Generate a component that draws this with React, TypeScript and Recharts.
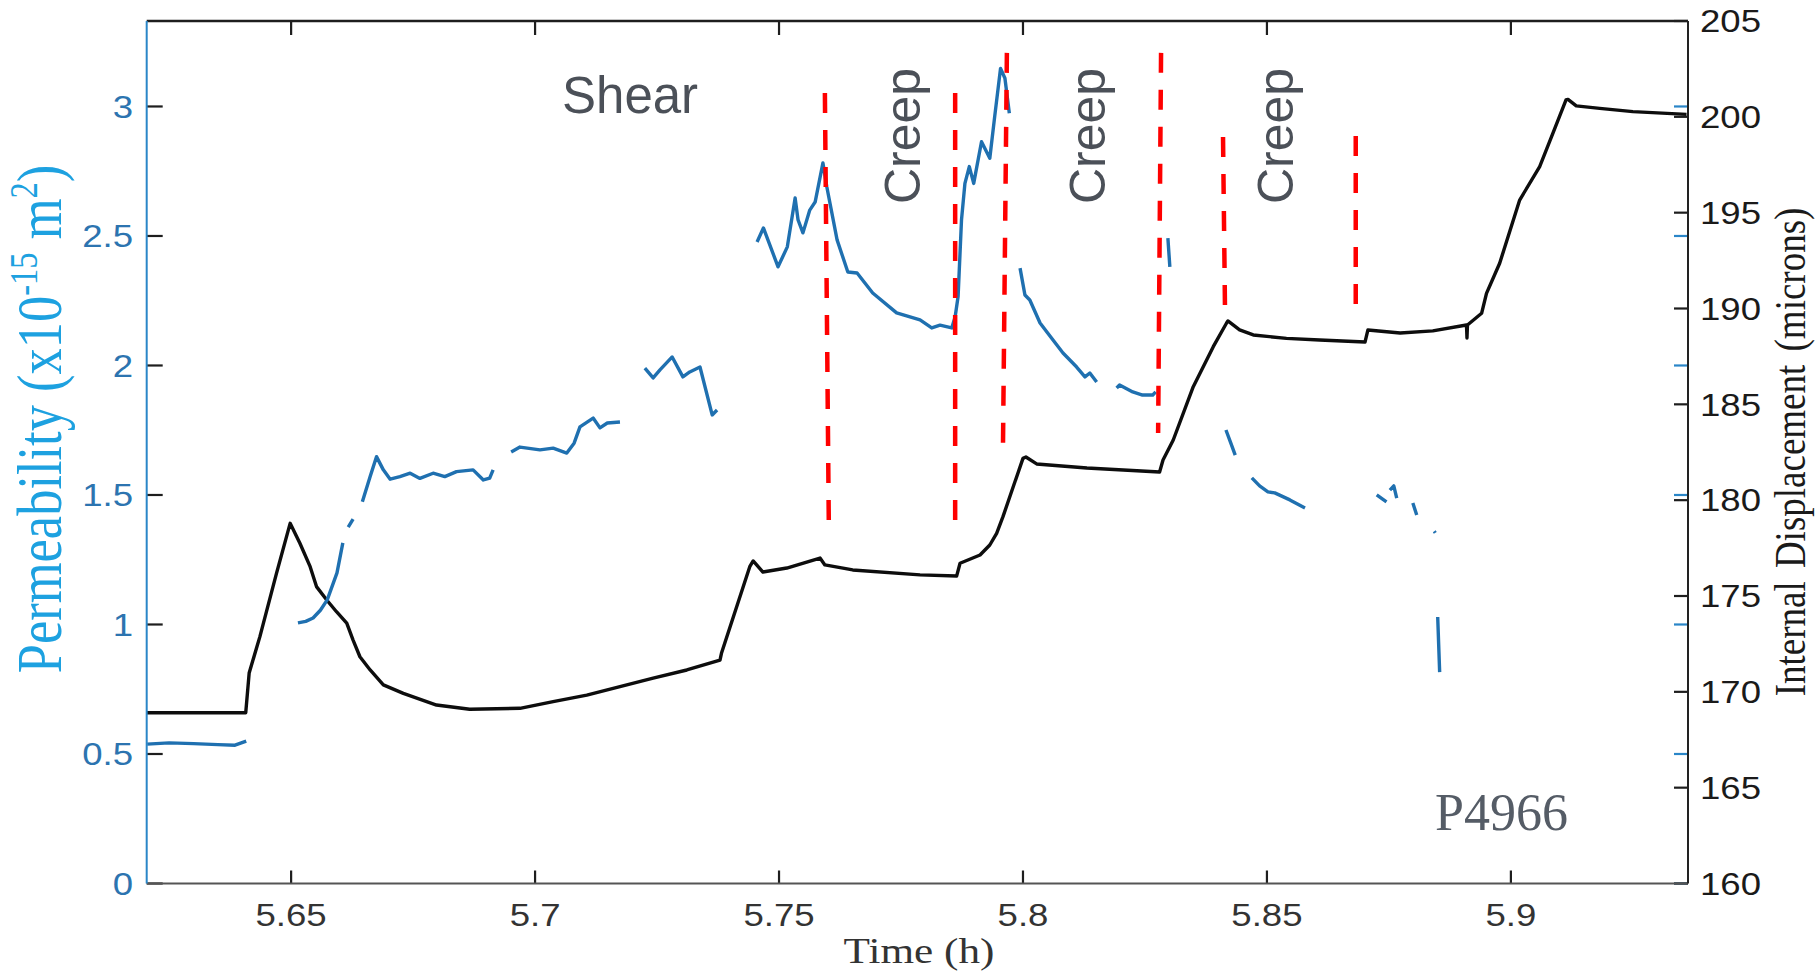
import { LineChart, Line, XAxis, YAxis, ReferenceLine } from 'recharts'

const W = 1820
const H = 972

const timeTicks = [5.65, 5.7, 5.75, 5.8, 5.85, 5.9]
const permTicks = [0, 0.5, 1, 1.5, 2, 2.5, 3]
const dispTicks = [160, 165, 170, 175, 180, 185, 190, 195, 200, 205]

const T_MIN = 5.6204
const T_MAX = 5.9363
const P_MAX = 3.33
const D_MIN = 160
const D_MAX = 205

// internal displacement (microns), right axis
const dispTime = [
  5.6204, 5.6407, 5.6414, 5.6436, 5.647, 5.6498, 5.6518, 5.6539, 5.6552, 5.6573,
  5.6593, 5.6614, 5.6627, 5.6641, 5.6662, 5.6689, 5.673, 5.6798, 5.6866, 5.6969,
  5.7037, 5.7106, 5.7174, 5.7242, 5.7311, 5.7379, 5.7382, 5.744, 5.7447, 5.7467,
  5.7516, 5.7584, 5.7594, 5.7651, 5.7789, 5.7864, 5.7871, 5.7912, 5.7932, 5.7946,
  5.7959, 5.798, 5.8, 5.8006, 5.8028, 5.8131, 5.828, 5.8287, 5.8308, 5.8349,
  5.839, 5.8417, 5.842, 5.8444, 5.8472, 5.854, 5.8608, 5.8701, 5.8707, 5.8773,
  5.884, 5.8909, 5.891, 5.8911, 5.894, 5.895, 5.8977, 5.9018, 5.9059, 5.9086,
  5.9113, 5.9117, 5.9134, 5.9182, 5.925, 5.936,
]
const dispValue = [
  168.91, 168.91, 170.98, 172.88, 176.18, 178.79, 177.75, 176.53, 175.49, 174.79,
  174.18, 173.58, 172.7, 171.83, 171.14, 170.36, 169.92, 169.31, 169.09, 169.14,
  169.49, 169.83, 170.27, 170.71, 171.14, 171.66, 172.01, 176.53, 176.83, 176.25,
  176.46, 176.98, 176.62, 176.36, 176.1, 176.04, 176.71, 177.14, 177.66, 178.27,
  179.14, 180.7, 182.18, 182.25, 181.89, 181.68, 181.47, 182.1, 183.14, 185.92,
  188.01, 189.23, 189.35, 188.88, 188.62, 188.44, 188.36, 188.25, 188.88, 188.72,
  188.83, 189.14, 188.46, 189.14, 189.75, 190.79, 192.36, 195.66, 197.4, 199.14,
  200.88, 200.91, 200.57, 200.44, 200.27, 200.13,
]

// permeability (x10^-15 m2), left axis; null marks a gap in the record
const permTime = [
  5.6205, 5.625, 5.63, 5.635, 5.6385, 5.6408, 5.645,
  5.6514, 5.653, 5.6545, 5.656, 5.6574, 5.6594, 5.6606, 5.6612,
  5.6617, 5.6627, 5.6638,
  5.6646, 5.6662, 5.6675, 5.6689, 5.6703, 5.6723, 5.6744, 5.6764, 5.6791, 5.6815,
  5.6839, 5.6873, 5.6894, 5.6907, 5.6914, 5.693,
  5.6951, 5.6969, 5.701, 5.7037, 5.7065, 5.708, 5.7092, 5.7119, 5.7133, 5.7148, 5.7174, 5.72,
  5.7225, 5.7242, 5.7256, 5.7281, 5.7303, 5.7317, 5.7338, 5.7363, 5.7373, 5.741,
  5.7455, 5.7468, 5.7498, 5.7517, 5.7533, 5.7539, 5.7549, 5.7563, 5.7574, 5.759,
  5.7598, 5.7619, 5.7641, 5.766, 5.7692, 5.7741, 5.7789, 5.7813, 5.783, 5.7854,
  5.7861, 5.7867, 5.7874, 5.7881, 5.789, 5.7899, 5.7915, 5.7932, 5.7942, 5.7954,
  5.7963, 5.7972, 5.7985,
  5.7994, 5.8004, 5.8014, 5.8035, 5.8049, 5.8082, 5.811, 5.8127, 5.8137, 5.8151, 5.8165,
  5.8192, 5.8198, 5.8225, 5.8245, 5.8266, 5.8272, 5.828,
  5.8297, 5.8301, 5.835,
  5.8416, 5.8426, 5.8435, 5.845,
  5.8469, 5.8485, 5.8502, 5.8516, 5.8547, 5.8578, 5.865,
  5.8725, 5.8745, 5.8748,
  5.8752, 5.876, 5.8766, 5.878,
  5.8799, 5.8807, 5.882,
  5.8843, 5.8845, 5.8847,
  5.885, 5.8854,
]
const permValue = [
  0.538, 0.543, 0.54, 0.536, 0.534, 0.55, null,
  1.006, 1.012, 1.025, 1.055, 1.095, 1.199, 1.315, null,
  1.376, 1.407, null,
  1.474, 1.571, 1.648, 1.597, 1.561, 1.571, 1.584, 1.564, 1.584, 1.571,
  1.59, 1.597, 1.558, 1.565, 1.597, null,
  1.666, 1.685, 1.674, 1.681, 1.662, 1.7, 1.763, 1.797, 1.759, 1.778, 1.782, null,
  1.99, 1.952, 1.983, 2.033, 1.956, 1.975, 1.994, 1.809, 1.828, null,
  2.477, 2.531, 2.381, 2.458, 2.647, 2.562, 2.512, 2.6, 2.631, 2.782,
  2.689, 2.485, 2.361, 2.357, 2.28, 2.203, 2.176, 2.145, 2.156, 2.145,
  2.188, 2.266, 2.562, 2.703, 2.768, 2.703, 2.864, 2.8, 2.961, 3.147,
  3.109, 2.974, null,
  2.376, 2.272, 2.253, 2.164, 2.129, 2.048, 1.994, 1.956, 1.971, 1.936, null,
  1.913, 1.925, 1.898, 1.886, 1.886, 1.898, null,
  2.492, 2.381, null,
  1.751, 1.7, 1.654, null,
  1.566, 1.535, 1.512, 1.508, 1.481, 1.45, null,
  1.5, 1.473, null,
  1.519, 1.535, 1.488, null,
  1.469, 1.423, null,
  1.36, 1.354, null,
  1.029, 0.816,
]

// red dashed markers (time and permeability of both ends)
const markTimeTop = [5.7594, 5.7861, 5.7967, 5.8283, 5.841, 5.8682]
const markTimeBottom = [5.7602, 5.7861, 5.7959, 5.8277, 5.8414, 5.8682]
const markTop = [3.052, 3.052, 3.207, 3.207, 2.882, 2.886]
const markBottom = [1.392, 1.392, 1.685, 1.739, 2.226, 2.233]

const dispData = dispTime.map((t, i) => ({ t, v: dispValue[i] }))
const permData = permTime.map((t, i) => ({ t, v: permValue[i] }))

// plot box, set by the margins and axis sizes below
const LEFT_W = 146.7
const RIGHT_W = 132
const TOP_M = 21
const BOTTOM_H = 88.5
const PL = LEFT_W
const PR = W - RIGHT_W
const PT = TOP_M
const PB = H - BOTTOM_H

// same linear maps as the axes, only for the MATLAB-style box ticks
const bx = (t: number) => PL + ((t - T_MIN) / (T_MAX - T_MIN)) * (PR - PL)
const byL = (v: number) => PB - (v / P_MAX) * (PB - PT)
const byR = (v: number) => PB - ((v - D_MIN) / (D_MAX - D_MIN)) * (PB - PT)

const FRAME = '#1e1e1e'
const BLUE_AXIS = '#2a86c8'

const SANS = "'Liberation Sans', Arial, Helvetica, sans-serif"
const SERIF = "'Liberation Serif', 'Times New Roman', serif"
const SX = 1.18

const tickText = (anchor: 'start' | 'middle' | 'end', fill: string, dy: string) =>
  (p: any) => (
    <text
      transform={`translate(${p.x},${p.y}) scale(${SX},1)`}
      textAnchor={anchor}
      dy={dy}
      fontFamily={SANS}
      fontSize={31}
      fill={fill}
    >
      {String(p.payload.value)}
    </text>
  )

function Frame() {
  return (
    <g className="box-frame">
      <rect x={PL} y={PT - 1.25} width={PR - PL} height={2.5} fill={FRAME} />
      {timeTicks.map((t) => (
        <g key={`x${t}`}>
          <rect x={bx(t) - 1.1} y={PB - 13} width={2.2} height={13} fill={FRAME} />
          <rect x={bx(t) - 1.1} y={PT} width={2.2} height={14} fill={FRAME} />
        </g>
      ))}
      {permTicks.map((v) => (
        <g key={`p${v}`}>
          <rect x={PL} y={byL(v) - 1.1} width={16} height={2.2} fill={FRAME} />
          <rect x={PR - 14} y={byL(v) - 1.1} width={14} height={2.2} fill={BLUE_AXIS} />
        </g>
      ))}
      {dispTicks.map((v) => (
        <rect key={`d${v}`} x={PR - 14} y={byR(v) - 1.1} width={14} height={2.2} fill={FRAME} />
      ))}
    </g>
  )
}

export default function App() {
  return (
    <div style={{ position: 'absolute', left: 0, top: 0, width: W, height: H, background: '#fff' }}>
      <LineChart width={W} height={H} margin={{ top: TOP_M, right: 0, bottom: 0, left: 0 }}>
        <XAxis
          dataKey="t"
          type="number"
          domain={[T_MIN, T_MAX]}
          allowDataOverflow
          ticks={timeTicks}
          interval={0}
          height={BOTTOM_H}
          axisLine={{ stroke: '#555555', strokeWidth: 2 }}
          tickLine={false}
          tickSize={0}
          tickMargin={20.5}
          tick={tickText('middle', '#333333', '0.72em')}
        />
        <YAxis
          yAxisId="left"
          type="number"
          domain={[0, P_MAX]}
          allowDataOverflow
          ticks={permTicks}
          interval={0}
          width={LEFT_W}
          axisLine={{ stroke: BLUE_AXIS, strokeWidth: 2 }}
          tickLine={false}
          tickSize={0}
          tickMargin={13.7}
          tick={tickText('end', '#2c74b0', '0.36em')}
        />
        <YAxis
          yAxisId="right"
          orientation="right"
          type="number"
          domain={[D_MIN, D_MAX]}
          allowDataOverflow
          ticks={dispTicks}
          interval={0}
          width={RIGHT_W}
          axisLine={{ stroke: '#222222', strokeWidth: 2 }}
          tickLine={false}
          tickSize={0}
          tickMargin={12}
          tick={tickText('start', '#1a1a1a', '0.36em')}
        />

        <Line
          yAxisId="right"
          data={dispData}
          dataKey="v"
          type="linear"
          stroke="#0d0d0d"
          strokeWidth={3.4}
          strokeLinejoin="round"
          dot={false}
          isAnimationActive={false}
        />
        <Line
          yAxisId="left"
          data={permData}
          dataKey="v"
          type="linear"
          stroke="#1f70b0"
          strokeWidth={3.4}
          strokeLinejoin="round"
          dot={false}
          connectNulls={false}
          isAnimationActive={false}
        />

        {markTimeTop.map((t, i) => (
          <ReferenceLine
            key={`red${i}`}
            yAxisId="left"
            segment={[{ x: t, y: markTop[i] }, { x: markTimeBottom[i], y: markBottom[i] }]}
            stroke="#ff0000"
            strokeWidth={4.5}
            strokeDasharray="20 17"
            ifOverflow="visible"
          />
        ))}

        <Frame />

        <text x={562} y={113} fontFamily={SANS} fontSize={51} fill="#4b5058">Shear</text>
        {[920, 1105, 1293].map((x) => (
          <text
            key={x}
            transform={`translate(${x},136) rotate(-90)`}
            textAnchor="middle"
            fontFamily={SANS}
            fontSize={50}
            fill="#4b5058"
          >
            Creep
          </text>
        ))}
        <text x={1435} y={830} fontFamily={SERIF} fontSize={52} fill="#555c66">P4966</text>

        <text
          transform={`translate(61,419) scale(1.2,1) rotate(-90)`}
          textAnchor="middle"
          fontFamily={SERIF}
          fontSize={52.5}
          fill="#1da1e0"
        >
          Permeability (x10<tspan dy={-20} fontSize={32.5}>-15</tspan>
          <tspan dy={20}> m</tspan>
          <tspan dy={-20} fontSize={32.5}>2</tspan>
          <tspan dy={20}>)</tspan>
        </text>
        <text
          transform={`translate(1805,452) scale(1.2,1) rotate(-90)`}
          textAnchor="middle"
          fontFamily={SERIF}
          fontSize={37}
          wordSpacing={4}
          fill="#1a1a1a"
        >
          Internal Displacement (microns)
        </text>
        <text
          transform={`translate(919,963) scale(1.2,1)`}
          textAnchor="middle"
          fontFamily={SERIF}
          fontSize={36}
          fill="#333333"
        >
          Time (h)
        </text>
      </LineChart>
    </div>
  )
}
